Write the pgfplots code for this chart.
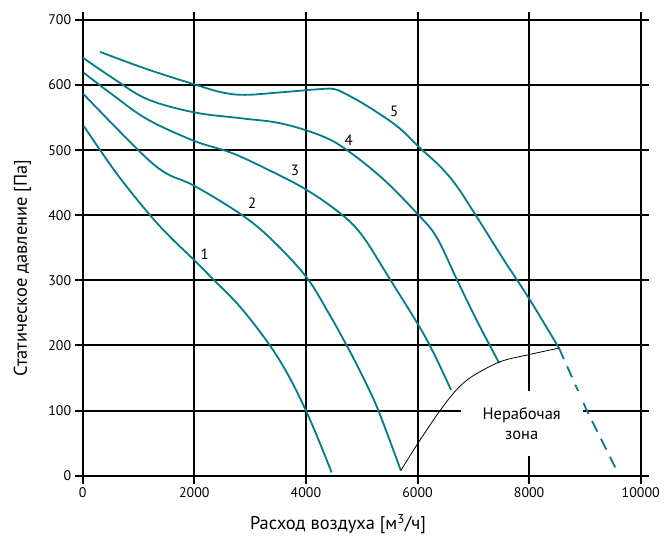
\documentclass[border=0pt]{standalone}
\usepackage{pgfplots}
\pgfplotsset{compat=1.18}
\usepackage{fontspec}
\setmainfont{PT Sans}
\definecolor{curvec}{RGB}{0,125,138}
\pgfplotsset{mycurve/.style={no marks, line width=1.8bp, color=curvec, smooth, tension=0.6}}
\begin{document}
\begin{tikzpicture}
\begin{axis}[name=ax, scale only axis, width=558bp, height=455.7bp,
  xmin=0, xmax=10000, ymin=0, ymax=700,
  xtick={0,2000,...,10000}, ytick={0,100,...,700},
  grid=major, major grid style={black, line width=2bp},
  axis line style={black, line width=2bp},
  tick align=outside, major tick length=8bp, tick style={black, line width=2bp},
  scaled x ticks=false,
  /pgf/number format/1000 sep={},
  /pgf/number format/assume math mode=true,
  ticklabel style={font=\fontsize{14}{16}\selectfont},
  xlabel={Расход воздуха [м\textsuperscript{3}/ч]},
  ylabel={Статическое давление [Па]},
  xlabel style={font=\fontsize{18.5}{20}\selectfont, at={(axis description cs:0.4575,-0.1066)}, anchor=center},
  ylabel style={font=\fontsize{18.5}{20}\selectfont, at={(axis description cs:-0.108,0.456)}, anchor=center},
  clip=false
]
% curve 1
\addplot[mycurve] coordinates {(20,537) (329,498) (689,455) (1228,398) (1600,364) (2000,331) (2335,302) (2814,260) (3323,204) (3680,155) (4000,100) (4251,50) (4461,5)};
% curve 2
\addplot[mycurve] coordinates {(5,587) (569,537) (1168,486) (1527,463) (2006,445) (2844,401) (3383,363) (4000,306) (4400,251) (4731,200) (5020,152) (5299,100) (5701,8)};
% curve 3
\addplot[mycurve] coordinates {(18,619) (569,583) (1168,547) (2006,514) (2665,496) (3323,470) (3994,440) (4600,404) (5000,370) (5512,301) (6012,232) (6286,189) (6600,132)};
% curve 4
\addplot[mycurve] coordinates {(5,642) (569,609) (1168,578) (2006,558) (2844,549) (3563,541) (4281,522) (4738,500) (5393,455) (6012,401) (6345,366) (6702,302) (7059,239) (7464,173)};
% curve 5
\addplot[mycurve] coordinates {(311,651) (1168,624) (2006,601) (2485,589) (2904,585) (3563,589) (4281,594) (4500,594) (4679,588) (5095,568) (5631,537) (6012,506) (6405,475) (6702,445) (7059,398) (7536,333) (8000,272) (8536,196)};
% dashed extension
\addplot[no marks, line width=1.8bp, color=curvec, dash pattern=on 12bp off 8bp] coordinates {(8536,196) (9030,101) (9600,3)};
% boundary of non-working zone
\addplot[no marks, black, line width=0.8bp, smooth] coordinates {(5701,8) (6009,50) (6403,100) (6700,132) (6970,152) (7476,175) (8000,186) (8536,196)};
\node[fill=white, align=center, minimum width=122bp, minimum height=65bp, inner sep=0pt, font=\fontsize{16.5}{21}\selectfont] at (axis cs:7867,80) {Нерабочая\\зона};
\node[font=\fontsize{15}{16}\selectfont] at (axis cs:2186,341) {1};
\node[font=\fontsize{15}{16}\selectfont] at (axis cs:3036,419) {2};
\node[font=\fontsize{15}{16}\selectfont] at (axis cs:3802,469) {3};
\node[font=\fontsize{15}{16}\selectfont] at (axis cs:4768,516) {4};
\node[font=\fontsize{15}{16}\selectfont] at (axis cs:5583,559) {5};
\end{axis}
\path ([shift={(-82.7bp,-67.3bp)}]ax.south west) rectangle ([shift={(24.3bp,20bp)}]ax.north east);
\end{tikzpicture}
\end{document}
